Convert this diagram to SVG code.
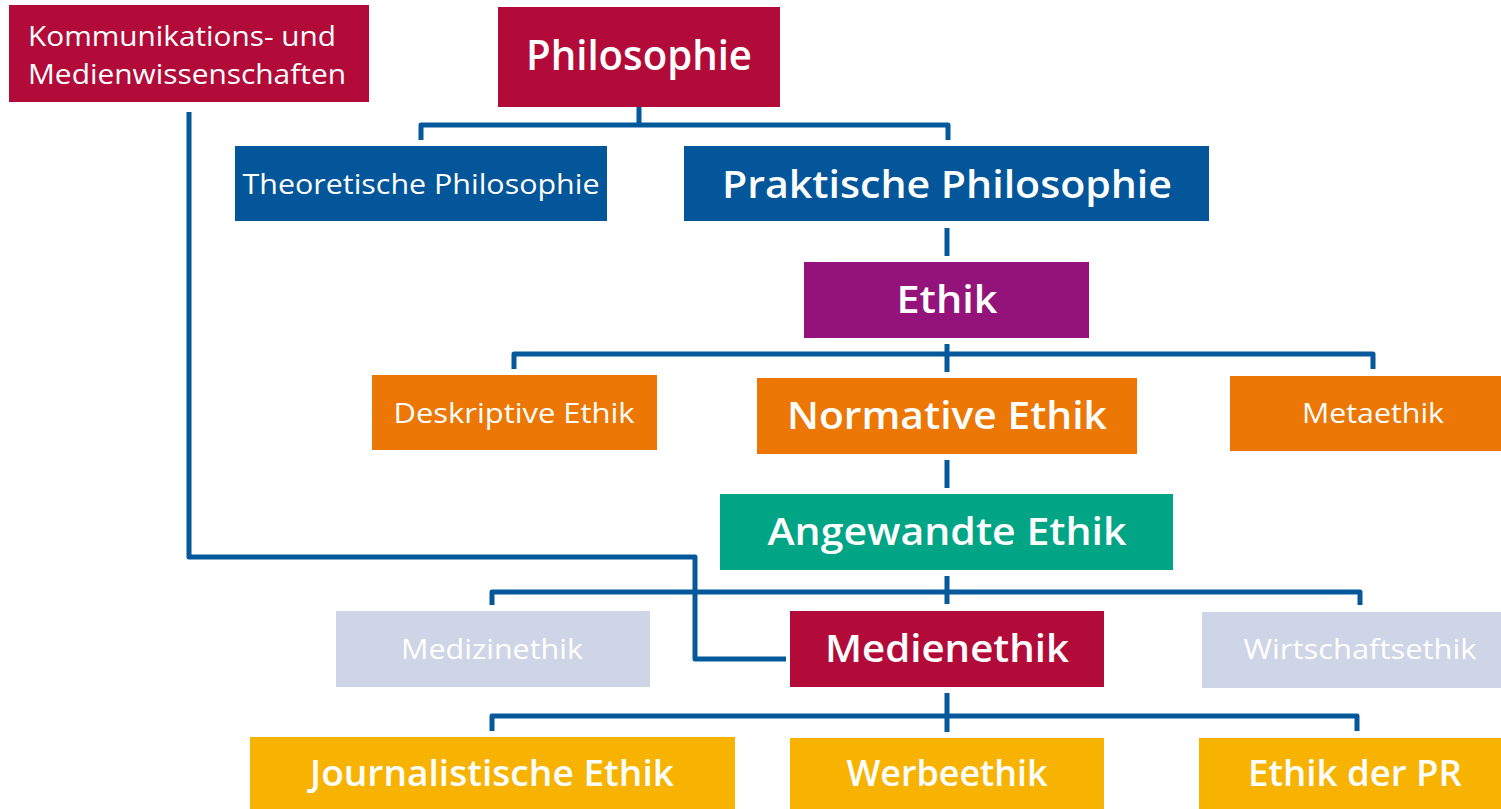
<svg xmlns="http://www.w3.org/2000/svg" width="1501" height="809" viewBox="0 0 1501 809">
<style>
.red{fill:#B20B3A}.blue{fill:#035699}.purple{fill:#93137B}.orange{fill:#EC7704}.teal{fill:#00A586}.grey{fill:#CED5E6}.yellow{fill:#F8B300}
text{font-family:"Open Sans","Noto Sans","DejaVu Sans",sans-serif;fill:#FFFFFF;text-anchor:middle}
.s{font-size:27px;font-weight:400}
.b{font-size:38px;font-weight:600}
.l{font-size:28px;font-weight:400;text-anchor:start}
.c{fill:none;stroke:#055899;stroke-width:5;stroke-linejoin:round}
</style>
<g id="connectors">
<path class="c" d="M639 107 V125 M421 140 V125 H948 V140"/>
<path class="c" d="M947 228 V256"/>
<path class="c" d="M947 344 V372 M514 369 V354 H1373 V369"/>
<path class="c" d="M947 460 V488"/>
<path class="c" d="M947 576 V604 M492 605 V592 H1360 V605"/>
<path class="c" d="M189 112 V557 H695 V659 H786"/>
<path class="c" d="M947 693 V732 M492 731 V716 H1357 V731"/>
</g>
<g id="kmw"><rect class="red" x="9" y="5" width="360" height="97"/>
<text class="l" x="28" y="46" textLength="308" lengthAdjust="spacingAndGlyphs">Kommunikations- und</text>
<text class="l" x="28" y="84" textLength="318" lengthAdjust="spacingAndGlyphs">Medienwissenschaften</text></g>
<g id="philosophie"><rect class="red" x="498" y="7" width="282" height="100"/>
<text class="b" x="639" y="70" style="font-size:41px" textLength="226" lengthAdjust="spacingAndGlyphs">Philosophie</text></g>
<g id="theoretische"><rect class="blue" x="235" y="146" width="372" height="75"/>
<text class="s" x="421" y="194" textLength="357" lengthAdjust="spacingAndGlyphs">Theoretische Philosophie</text></g>
<g id="praktische"><rect class="blue" x="684" y="146" width="525" height="75"/>
<text class="b" x="947" y="198" textLength="450" lengthAdjust="spacingAndGlyphs">Praktische Philosophie</text></g>
<g id="ethik"><rect class="purple" x="804" y="262" width="285" height="76"/>
<text class="b" x="947" y="313" textLength="101" lengthAdjust="spacingAndGlyphs">Ethik</text></g>
<g id="deskriptive"><rect class="orange" x="372" y="375" width="285" height="75"/>
<text class="s" x="514" y="423" textLength="241" lengthAdjust="spacingAndGlyphs">Deskriptive Ethik</text></g>
<g id="normative"><rect class="orange" x="757" y="378" width="380" height="76"/>
<text class="b" x="947" y="429" textLength="320" lengthAdjust="spacingAndGlyphs">Normative Ethik</text></g>
<g id="metaethik"><rect class="orange" x="1230" y="376" width="271" height="75"/>
<text class="s" x="1373" y="423" textLength="142" lengthAdjust="spacingAndGlyphs">Metaethik</text></g>
<g id="angewandte"><rect class="teal" x="720" y="494" width="453" height="76"/>
<text class="b" x="947" y="545" textLength="359" lengthAdjust="spacingAndGlyphs">Angewandte Ethik</text></g>
<g id="medizinethik"><rect class="grey" x="336" y="611" width="314" height="76"/>
<text class="s" x="492" y="659" textLength="182" lengthAdjust="spacingAndGlyphs">Medizinethik</text></g>
<g id="medienethik"><rect class="red" x="790" y="611" width="314" height="76"/>
<text class="b" x="947" y="662" textLength="244" lengthAdjust="spacingAndGlyphs">Medienethik</text></g>
<g id="wirtschaftsethik"><rect class="grey" x="1202" y="612" width="299" height="76"/>
<text class="s" x="1360" y="659" textLength="233" lengthAdjust="spacingAndGlyphs">Wirtschaftsethik</text></g>
<g id="journalistische"><rect class="yellow" x="250" y="737" width="485" height="72"/>
<text class="b" x="492" y="786" style="font-size:36px" textLength="364" lengthAdjust="spacingAndGlyphs">Journalistische Ethik</text></g>
<g id="werbeethik"><rect class="yellow" x="790" y="738" width="314" height="71"/>
<text class="b" x="947" y="786" style="font-size:36px" textLength="201" lengthAdjust="spacingAndGlyphs">Werbeethik</text></g>
<g id="ethikpr"><rect class="yellow" x="1199" y="738" width="302" height="71"/>
<text class="b" x="1355" y="786" style="font-size:36px" textLength="214" lengthAdjust="spacingAndGlyphs">Ethik der PR</text></g>
</svg>
